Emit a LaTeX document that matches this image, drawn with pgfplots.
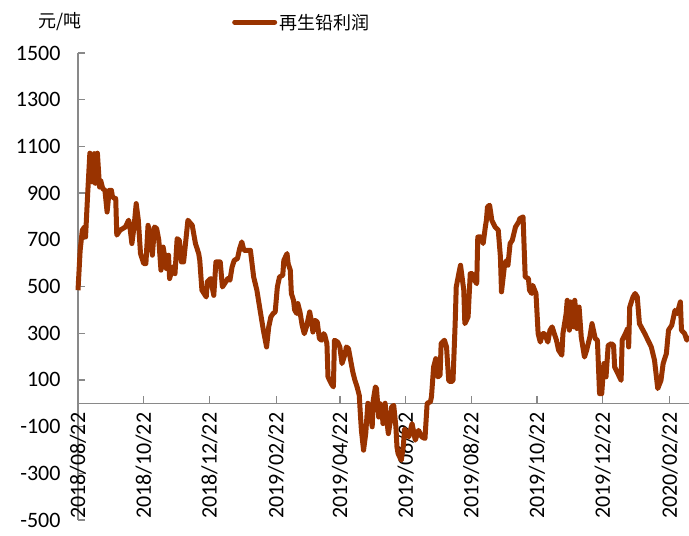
\documentclass[border=0pt]{standalone}
\usepackage{fontspec}
\setmainfont{Carlito}
\newfontfamily\cjk{Noto Sans CJK SC}
\usepackage{pgfplots}
\usepackage{pgfplotstable}
\pgfplotsset{compat=1.18}
\definecolor{leadred}{HTML}{993300}
\definecolor{axisgray}{HTML}{898989}

% Secondary lead profit, yuan per tonne; day = days since 2018/08/22
\pgfplotstableread{
day profit
0 484
2 655
4 741
6 755
7 712
9 899
11 1071
13 948
15 1069
16 942
18 1071
20 926
21 955
23 919
25 912
27 819
29 912
31 912
32 884
34 877
35 877
36 720
39 741
44 755
47 784
48 762
50 684
52 755
54 855
56 784
58 641
61 598
63 598
65 762
67 727
69 634
71 755
73 748
75 698
77 570
79 669
81 612
82 577
84 634
85 534
88 584
90 555
92 705
94 698
96 605
98 605
99 650
102 784
106 762
109 684
112 641
113 612
115 484
117 470
119 455
120 520
123 534
126 462
128 605
132 605
134 498
136 512
139 534
141 527
143 584
145 612
148 620
150 662
152 691
154 655
160 655
163 541
166 484
169 398
172 313
175 241
177 327
179 370
181 384
183 391
185 498
187 541
190 548
191 612
194 641
195 598
197 570
198 470
200 441
201 400
203 384
204 427
206 391
208 334
210 298
212 327
214 370
215 391
217 341
218 305
220 355
222 348
224 277
226 270
228 298
229 291
231 255
232 113
235 84
237 70
238 270
241 262
243 241
245 170
248 213
249 241
251 234
253 184
255 134
257 98
259 70
261 34
262 -44
263 -116
265 -201
267 -130
269 0
271 -30
273 -101
274 13
276 70
277 63
279 -59
280 0
282 -16
283 -87
285 0
286 -51
288 -130
290 -73
291 -16
293 -9
295 -101
296 -187
297 -215
299 -235
300 -244
302 -180
303 -110
307 -144
310 -87
313 -158
316 -116
319 -144
322 -151
324 0
327 6
328 27
330 155
332 191
334 113
336 120
337 256
340 270
342 241
344 98
346 91
348 98
350 341
351 498
354 570
355 591
358 484
359 341
362 370
364 555
366 555
368 527
370 512
371 712
374 712
376 684
378 755
379 784
380 841
382 848
384 784
387 755
390 741
392 627
393 477
396 598
398 612
399 591
401 684
403 698
406 755
409 777
410 791
413 798
415 541
418 534
419 484
421 470
422 505
425 470
427 298
429 262
431 298
433 298
436 262
438 313
440 327
442 298
444 270
446 227
449 206
450 298
453 384
454 441
456 313
457 434
460 327
461 441
463 320
465 412
467 284
470 198
472 227
475 284
477 341
480 277
482 270
484 41
486 41
488 170
490 113
492 248
495 255
497 248
498 155
501 127
504 98
505 270
508 298
510 320
511 241
512 412
515 455
517 470
519 455
521 341
526 298
532 241
535 184
538 63
541 98
543 170
546 213
548 313
551 334
554 398
556 384
559 434
560 313
563 298
565 270
566 290
}\profit

\begin{document}
\begin{tikzpicture}
\useasboundingbox (-78bp,-16bp) rectangle (611bp,520bp);
\begin{axis}[
  at={(0,0)}, anchor=south west,
  scale only axis, width=611bp, height=467bp,
  xmin=0, xmax=567, ymin=-500, ymax=1500,
  axis x line=middle, axis y line=left,
  axis line style={-, axisgray, line width=1.3bp},
  hide obscured x ticks=false, hide obscured y ticks=false,
  xtick={0,61,122,184,243,304,365,426,487,549},
  xticklabels={2018/08/22,2018/10/22,2018/12/22,2019/02/22,2019/04/22,2019/06/22,2019/08/22,2019/10/22,2019/12/22,2020/02/22},
  ytick={-500,-300,...,1500},
  tick style={axisgray, line width=1.3bp},
  major tick length=7bp,
  tick align=inside,
  every tick label/.append style={font=\fontsize{22bp}{26bp}\selectfont, text=black},
  xticklabel style={rotate=90, anchor=east},
  xticklabel shift=6bp,
  yticklabel shift=14bp,
  /pgf/number format/assume math mode=true,
  /pgf/number format/1000 sep={},
  clip=false,
  legend style={at={(0.252,1.066)}, anchor=west, draw=none, fill=none,
    font=\cjk\fontsize{18bp}{20bp}\selectfont, inner sep=0pt},
  legend image code/.code={\draw[#1, line cap=round] (0bp,0bp) -- (40bp,0bp);},
]
\addplot[leadred, line width=5bp, line join=round] table[x=day, y=profit] {\profit};
\addlegendentry{再生铅利润}
\end{axis}
\node[font=\cjk\fontsize{18bp}{20bp}\selectfont] at (-18bp,498bp) {元/吨};
\end{tikzpicture}
\end{document}
